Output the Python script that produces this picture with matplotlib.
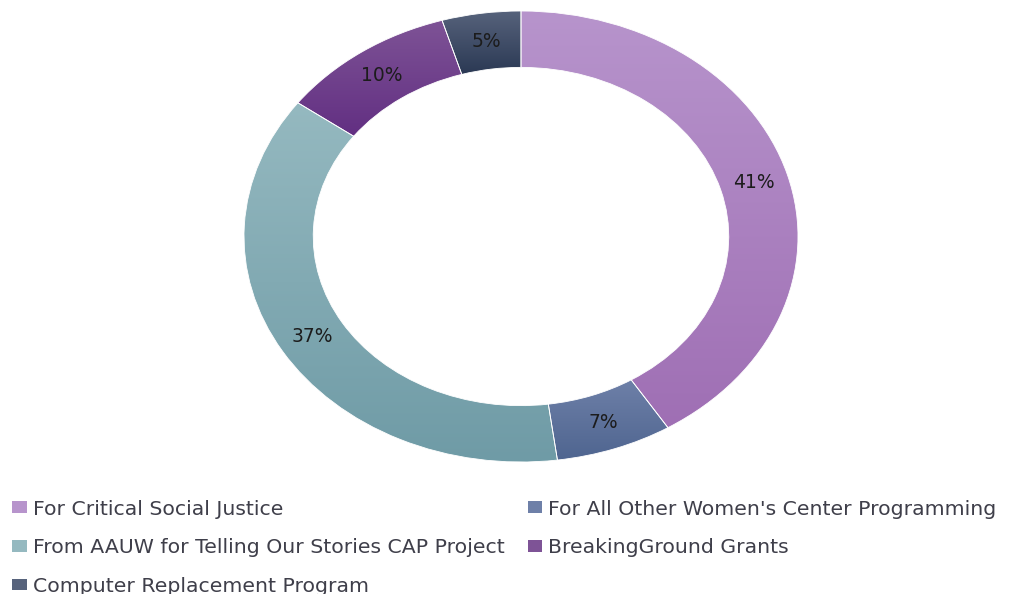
import numpy as np
import matplotlib.pyplot as plt
from matplotlib.patches import Patch
from matplotlib.colors import to_rgb

# Funding sources (percent of total)
labels = ['For Critical Social Justice',
          "For All Other Women's Center Programming",
          'From AAUW for Telling Our Stories CAP Project',
          'BreakingGround Grants',
          'Computer Replacement Program']
values = [41.1, 6.8, 37.2, 10.3, 4.6]

# gradient colours (top, bottom) per slice
top_colors = ['#b794cc', '#6e80a8', '#95b9c0', '#7e5396', '#57637c']
bot_colors = ['#9f6fb4', '#4f6590', '#6f9ba6', '#622f82', '#2b3954']

fig = plt.figure(figsize=(10.13, 5.94), dpi=100)
ax = fig.add_axes([244 / 1013, 132 / 594, 554 / 1013, 451 / 594])

wedges, _, autotexts = ax.pie(values, startangle=90, counterclock=False,
                              radius=1.0, autopct=lambda p: f'{p:.0f}%',
                              pctdistance=0.875,
                              wedgeprops=dict(width=0.25, edgecolor='white', linewidth=0.6),
                              textprops=dict(fontsize=13.5, color='#1c1c1c',
                                             family='DejaVu Sans'))

# vertical gradient fill clipped to each wedge
for w, c0, c1 in zip(wedges, top_colors, bot_colors):
    bb = w.get_path().get_extents()
    t = np.linspace(0, 1, 256)[:, None, None]
    grad = (1 - t) * np.array(to_rgb(c0)) + t * np.array(to_rgb(c1))
    im = ax.imshow(grad, extent=(bb.x0, bb.x1, bb.y0, bb.y1), aspect='auto',
                   zorder=w.get_zorder() + 0.1, interpolation='bilinear')
    im.set_clip_path(w)
    w.set_zorder(w.get_zorder() + 0.2)
    w.set_facecolor('none')
for t in autotexts:
    t.set_zorder(10)

ax.set_aspect('auto')
ax.set_xlim(-1, 1)
ax.set_ylim(-1, 1)
ax.axis('off')

# legend, row-major order in two columns
handles = [Patch(facecolor=c, edgecolor='none') for c in top_colors]
order = [0, 2, 4, 1, 3]
fig.legend([handles[i] for i in order], [labels[i] for i in order],
           ncol=2, loc='upper left', bbox_to_anchor=(-0.006, 0.19),
           frameon=False, handlelength=0.7, handleheight=0.5, handletextpad=0.3,
           columnspacing=1.15, labelspacing=0.96,
           prop=dict(family='DejaVu Sans', size=14.7), labelcolor='#3f3f4a')

plt.savefig('out.png', dpi=100)
